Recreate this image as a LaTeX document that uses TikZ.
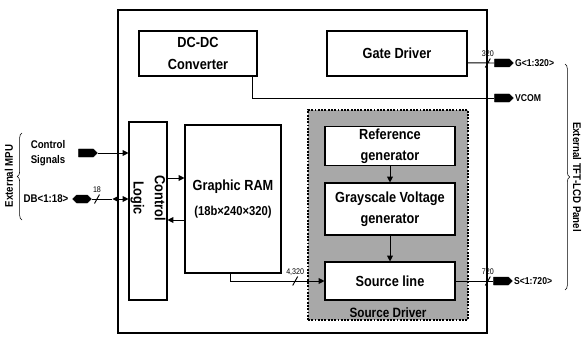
\documentclass[tikz,border=0pt]{standalone}
\usepackage{fontspec}
\setmainfont{Liberation Sans}[FakeStretch=0.87]
\usetikzlibrary{arrows.meta,positioning,calc,shapes.symbols,decorations.pathreplacing}
\tikzset{
  blk/.style={draw,line width=0.9pt,inner sep=2pt,align=center,
    font=\fontsize{12.5}{18}\selectfont\bfseries},
  txt/.style={inner sep=1pt,align=center,font=\fontsize{12.5}{18}\selectfont\bfseries},
  wire/.style={line width=0.8pt},
  ar/.style={-{Triangle[length=5pt,width=5pt]}},
  ar2/.style={{Triangle[length=5pt,width=5pt]}-{Triangle[length=5pt,width=5pt]}},
  bus/.style={signal,signal to=east,fill=black,draw=black,inner sep=0pt,
    minimum width=0.56cm,minimum height=0.24cm},
  pin/.style={font=\fontsize{9.5}{13}\selectfont\bfseries,inner sep=1pt,align=center},
  num/.style={font=\fontsize{7}{7}\selectfont,inner sep=0.5pt},
  brc/.style={decorate,decoration={brace,amplitude=4pt},line width=0.5pt},
}
% slash across a bus with the bus width above it
\newcommand{\buscut}[3]{%
  \draw[wire] ($(#1)+(-2.5,4.5)$) -- ($(#1)+(2.5,-4.5)$);
  \node[num] (#2) at ($(#1)+(0,-9)$) {#3};}

\begin{document}
\begin{tikzpicture}[x=0.03cm,y=-0.03cm]
  \useasboundingbox (0,0) rectangle (583,338);
  % the chip and its blocks
  \node[draw,line width=1.4pt,inner sep=0pt,minimum width=11.07cm,
    minimum height=9.69cm] (chip) at (302.5,171.5) {};
  \node[blk,minimum width=3.54cm,minimum height=1.35cm] (dcdc) at (198,53.5)
    {DC-DC\\Converter};
  \node[blk,minimum width=4.2cm,minimum height=1.35cm] (gate) at (397,53.5)
    {Gate Driver};
  \node[blk,minimum width=1.14cm,minimum height=5.34cm] (ctrl) at (148,211) {};
  \node[txt,rotate=-90] (ctrltxt) at (148,198) {Control\\Logic};
  \node[blk,minimum width=2.88cm,minimum height=4.44cm] (ram) at (233,199)
    {Graphic RAM\\[4pt]{\fontsize{11}{13}\selectfont(18b×240×320)}};
  % source driver
  \node[draw,fill=gray!68,line width=2pt,dash pattern=on 1.6pt off 1.2pt,
    minimum width=4.8cm,minimum height=6.3cm] (srcdrv) at (388,215) {};
  \node[blk,fill=white,minimum width=3.9cm,minimum height=1.14cm] (ref)
    at (390,146) {Reference\\generator};
  \node[blk,fill=white,minimum width=3.9cm,minimum height=1.56cm] (gray)
    at (390,209) {Grayscale Voltage\\generator};
  \node[blk,fill=white,minimum width=3.9cm,minimum height=1.14cm] (srcline)
    at (390,281) {Source line};
  \node[txt,anchor=south,font=\fontsize{11.5}{13}\selectfont\bfseries] (sdlab)
    at ([yshift=2pt]srcdrv.south) {Source Driver};
  \draw[wire,ar] (ref) -- (gray);
  \draw[wire,ar] (gray) -- (srcline);
  % control logic <-> RAM
  \coordinate (r1) at ($(ram.west)+(0,-21)$);
  \coordinate (r2) at ($(ram.west)+(0,21)$);
  \draw[wire,ar] (ctrl.east |- r1) -- (r1);
  \draw[wire,ar] (r2) -- (ctrl.east |- r2);
  % RAM to source line
  \draw[wire,ar] ([xshift=-0.09cm]ram.south) |- (srcline.west);
  \coordinate (c4) at ($(ram.south |- srcline.west)!0.68!(srcline.west)$);
  \buscut{c4}{n4320}{4,320}
  % external MPU side
  \node[bus] (csbus) at (86,153) {};
  \node[bus,signal to=east and west] (dbbus) at (82,199) {};
  \node[pin] (cslab) at (48,153) {Control\\Signals};
  \node[pin] (dblab) at (46,199) {DB<1:18>};
  \draw[wire,ar] (csbus.east) -- (ctrl.west |- csbus);
  \coordinate (dba) at ($(ctrl.west |- dbbus)+(-16,0)$);
  \draw[wire] (dbbus.east) -- (dba);
  \draw[wire,ar2] (dba) -- (ctrl.west |- dbbus);
  \coordinate (c18) at (97,199);
  \buscut{c18}{n18}{18}
  \coordinate (m1) at (22,220);
  \coordinate (m2) at (22,133);
  \draw[brc] (m1) -- (m2);
  \node[pin,rotate=90] (mpu) at (9,176) {External MPU};
  % panel side
  \node[bus] (gbus) at (502,63) {};
  \node[bus] (vbus) at (502,98) {};
  \node[bus] (sbus) at (501,281) {};
  \node[pin,anchor=west,font=\fontsize{8.5}{10}\selectfont\bfseries] (glab)
    at (gbus.east) {G<1:320>};
  \node[pin,anchor=west,font=\fontsize{8.5}{10}\selectfont\bfseries] (vlab)
    at (vbus.east) {VCOM};
  \node[pin,anchor=west,font=\fontsize{8.5}{10}\selectfont\bfseries] (slab)
    at (sbus.east) {S<1:720>};
  \draw[wire] ([yshift=-0.28cm]gate.east) -- (gbus.west);
  \draw[wire] ([xshift=-0.15cm]dcdc.south east) |- (vbus.west);
  \draw[wire] (srcline.east) -- (sbus.west);
  \coordinate (c320) at (chip.east |- gbus);
  \buscut{c320}{n320}{320}
  \coordinate (c720) at (chip.east |- sbus);
  \buscut{c720}{n720}{720}
  \coordinate (p1) at (565,64);
  \coordinate (p2) at (565,290);
  \draw[brc] (p1) -- (p2);
  \node[pin,rotate=-90] (lcd) at (577,177) {External TFT-LCD Panel};
\end{tikzpicture}
\end{document}
